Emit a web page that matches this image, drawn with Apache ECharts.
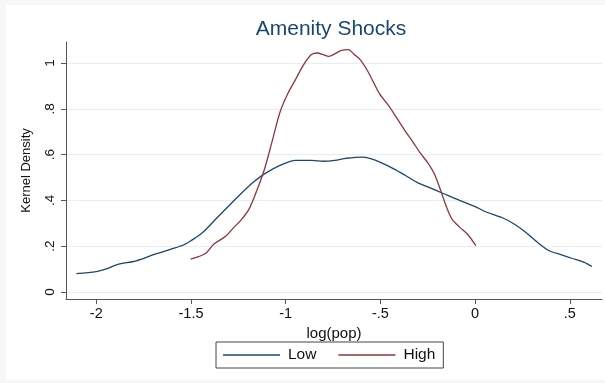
<!DOCTYPE html>
<html>
<head>
<meta charset="utf-8">
<script src="https://cdn.jsdelivr.net/npm/echarts@6/dist/echarts.min.js"></script>
<style>
  html, body { margin: 0; padding: 0; background: #f7f7f7; }
  #chart { position: absolute; left: 6px; top: 5px; width: 599px; height: 375px; background: #ffffff; }
</style>
</head>
<body>
<div id="chart"></div>
<script>
// values
const lowX = [-2.105, -2.0, -1.955, -1.89, -1.79, -1.69, -1.605, -1.54, -1.5, -1.44, -1.36, -1.255,
  -1.17, -1.11, -1.03, -0.947, -0.864, -0.8, -0.741, -0.679, -0.597, -0.556, -0.494, -0.432, -0.37,
  -0.309, -0.247, -0.165, -0.082, 0.0, 0.062, 0.144, 0.206, 0.267, 0.329, 0.391, 0.453, 0.514, 0.576, 0.617]
const lowY = [0.080, 0.089, 0.098, 0.119, 0.136, 0.165, 0.187, 0.205, 0.224, 0.258, 0.326, 0.414,
  0.48, 0.517, 0.553, 0.575, 0.575, 0.571, 0.575, 0.584, 0.589, 0.583, 0.564, 0.539, 0.51,
  0.48, 0.458, 0.429, 0.40, 0.373, 0.348, 0.324, 0.297, 0.261, 0.217, 0.18, 0.163, 0.146, 0.129, 0.111]

const highX = [-1.502, -1.46, -1.42, -1.379, -1.317, -1.276, -1.235, -1.193, -1.152, -1.111, -1.07,
  -1.029, -0.988, -0.947, -0.905, -0.864, -0.833, -0.802, -0.772, -0.741, -0.71, -0.669, -0.638,
  -0.607, -0.566, -0.504, -0.453, -0.412, -0.37, -0.329, -0.288, -0.247, -0.216, -0.185, -0.154,
  -0.123, -0.082, -0.041, 0.004]
const highY = [0.143, 0.154, 0.17, 0.209, 0.243, 0.28, 0.315, 0.363, 0.444, 0.539, 0.663,
  0.788, 0.868, 0.93, 0.993, 1.037, 1.044, 1.037, 1.029, 1.04, 1.054, 1.059, 1.037,
  1.015, 0.963, 0.865, 0.81, 0.758, 0.704, 0.656, 0.605, 0.561, 0.517, 0.451, 0.378,
  0.319, 0.283, 0.253, 0.202]

const xTicks = [-2, -1.5, -1, -0.5, 0, 0.5]
const yTicks = [0, 0.2, 0.4, 0.6, 0.8, 1]

const C = {
  low: '#1a476f',
  high: '#90353b',
  title: '#1a476f',
  axis: '#555555',
  text: '#111111',
  grid: '#e5eef1'
}

const font = '"Liberation Sans", Arial, sans-serif'
// Stata-style labels: drop the leading zero
const stataNum = (v) => String(v).replace(/^(-?)0\./, '$1.')

const zip = (xs, ys) => xs.map((x, i) => [x, ys[i]])

const chart = echarts.init(document.getElementById('chart'))
chart.setOption({
  animation: false,
  textStyle: { fontFamily: font },
  title: {
    text: 'Amenity Shocks',
    left: 320,
    top: 9,
    textAlign: 'center',
    textStyle: { color: C.title, fontSize: 21, fontWeight: 'normal', fontFamily: font }
  },
  grid: { left: 60, right: 3, top: 37, bottom: 81 },
  legend: {
    show: true,
    left: 210,
    top: 337,
    padding: [5, 8, 5, 7],
    borderColor: '#444444',
    borderWidth: 1,
    itemWidth: 57,
    itemHeight: 1.5,
    itemGap: 22,
    icon: 'rect',
    textStyle: { color: C.text, fontSize: 15.5, fontFamily: font, padding: [0, 0, 0, 3] },
    data: ['Low', 'High']
  },
  xAxis: {
    type: 'value',
    min: -2.16,
    max: 0.67,
    name: 'log(pop)',
    nameLocation: 'middle',
    nameGap: 27,
    nameTextStyle: { color: C.text, fontSize: 15 },
    axisLine: { show: true, onZero: false, lineStyle: { color: C.axis, width: 1 } },
    axisTick: { show: true, length: 5, customValues: xTicks, lineStyle: { color: C.axis } },
    axisLabel: { customValues: xTicks, color: C.text, fontSize: 14.5, margin: 7, formatter: stataNum },
    splitLine: { show: false }
  },
  yAxis: {
    type: 'value',
    min: -0.031,
    max: 1.092,
    name: 'Kernel Density',
    nameLocation: 'middle',
    nameGap: 33,
    nameRotate: 90,
    nameTextStyle: { color: C.text, fontSize: 13 },
    axisLine: { show: true, onZero: false, lineStyle: { color: C.axis, width: 1 } },
    axisTick: { show: true, length: 5, customValues: yTicks, lineStyle: { color: C.axis } },
    axisLabel: { customValues: yTicks, color: C.text, fontSize: 13.5, rotate: 90, margin: 9, formatter: stataNum },
    splitLine: { show: true, lineStyle: { color: C.grid, width: 1 } }
  },
  series: [
    {
      name: 'Low',
      type: 'line',
      smooth: 0.3,
      showSymbol: false,
      lineStyle: { color: C.low, width: 1.3 },
      itemStyle: { color: C.low },
      data: zip(lowX, lowY)
    },
    {
      name: 'High',
      type: 'line',
      smooth: 0.3,
      showSymbol: false,
      lineStyle: { color: C.high, width: 1.3 },
      itemStyle: { color: C.high },
      data: zip(highX, highY)
    }
  ]
})
</script>
</body>
</html>
